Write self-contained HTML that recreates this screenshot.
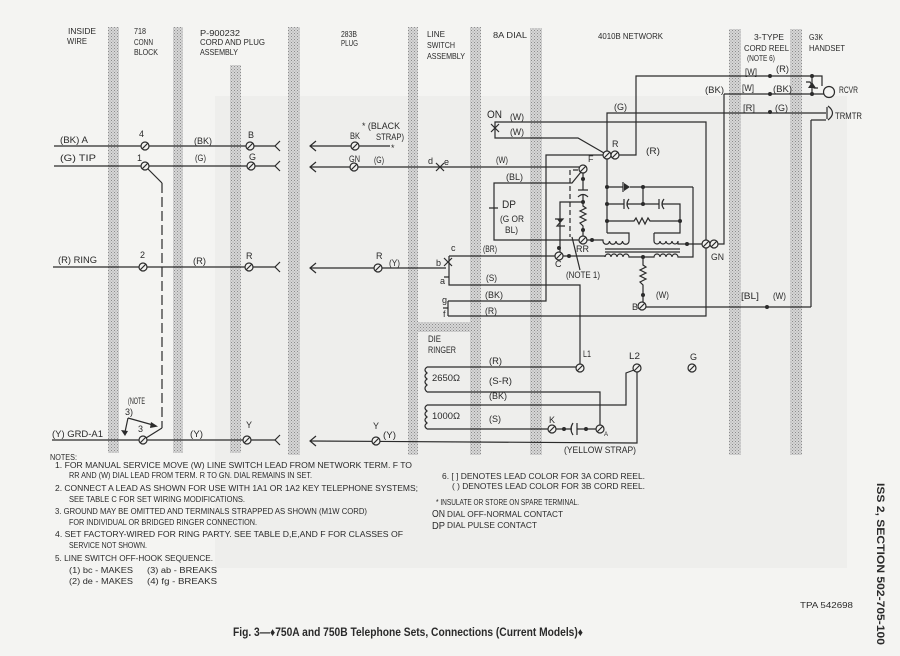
<!DOCTYPE html>
<html><head><meta charset="utf-8"><style>
html,body{margin:0;padding:0;background:#f4f4f2;}
svg{display:block;}
text{font-family:"Liberation Sans",sans-serif;font-size:9px;fill:#2a2a2a;}
text.s{font-size:8px;}
.b{font-weight:bold;}
</style></head><body>
<svg width="900" height="656" viewBox="0 0 900 656" xmlns="http://www.w3.org/2000/svg">
<defs>
<pattern id="st" width="3" height="3" patternUnits="userSpaceOnUse">
<rect width="3" height="3" fill="#d6d6d6"/><rect width="1" height="1" fill="#8c8c8c"/><rect x="1.5" y="1.5" width="1" height="1" fill="#9c9c9c"/>
</pattern>
</defs>
<rect width="900" height="656" fill="#f4f4f2"/>
<rect x="215" y="96" width="632" height="472" fill="#eeeeec"/>
<!-- stippled bars -->
<g fill="url(#st)">
<rect x="108" y="27" width="11" height="426"/>
<rect x="173" y="27" width="10" height="426"/>
<rect x="230" y="65" width="11" height="388"/>
<rect x="288" y="27" width="12" height="428"/>
<rect x="408" y="27" width="10" height="428"/>
<rect x="418" y="322" width="52" height="10"/>
<rect x="470" y="27" width="11" height="428"/>
<rect x="530" y="28" width="12" height="427"/>
<rect x="729" y="29" width="12" height="426"/>
<rect x="790" y="29" width="12" height="426"/>
</g>
<!-- wires -->
<g fill="none" stroke="#2b2b2b" stroke-width="1.2">
<path d="M54,146H275M54,166H275M53,267H275M52,440H275"/>
<path d="M280,141L275,146L280,151M280,161L275,166L280,171M280,262L275,267L280,272M280,435L275,440L280,445"/>
<path d="M310,146H390M310,167H579M310,268H446M310,441L637,443V372"/>
<path d="M316,141L310,146L316,151M316,162L310,167L316,172M316,263L310,268L316,273M316,436L310,441L316,446"/>
<path d="M436,163L444,171M436,171L444,163"/>
<path d="M145,166L162,183M162,428L146,438"/>
<path d="M162,183V428" stroke-dasharray="10 4"/>
<path d="M128,418L153,425M128,418L125,432"/>
<!-- line switch -->
<path d="M449,256H555M449,256V285H580V364M444,258L452,266M444,266L452,258M444,277H449"/>
<path d="M448,301V316M443,308H448M448,301H546V155H603M448,316H706V122H495V138H578L604,153"/>
<path d="M491,124L499,132M491,132L499,124"/>
<path d="M581,172L572,183H494V240H579M489,208H498"/>
<path d="M578,170H570V237" stroke-dasharray="5 3"/>
<path d="M572,237L580,270"/>
<path d="M583,173V190M578,190H588M578,197Q583,192 588,197M583,195V206L586,208L580,211L586,214L580,217L586,220L580,223L583,226V236"/>
<path d="M583,202H560V252M555,219H563L557,226H565"/>
<path d="M563,256H605V257M587,240H603V241"/>
<!-- transformer -->
<path d="M603,241a3,3 0 0 0 6.5,0a3,3 0 0 0 6.5,0a3,3 0 0 0 6.5,0a3,3 0 0 0 6.5,0V233H607"/>
<path d="M654,233V241a3,3 0 0 0 6,0a3,3 0 0 0 6,0a3,3 0 0 0 6,0a3,3 0 0 0 6,0V244H702M654,233H680V221"/>
<path d="M605,249H680M605,252H680"/>
<path d="M605,257a3,3 0 0 1 6,0a3,3 0 0 1 6,0a3,3 0 0 1 6,0a3,3 0 0 1 6,0H654a3,3 0 0 1 6,0a3,3 0 0 1 6,0a3,3 0 0 1 6,0a3,3 0 0 1 6,0H693V187"/>
<path d="M643,257V265L646,267L640,270L646,273L640,276L646,279L640,282L643,285V302"/>
<!-- network -->
<path d="M607,159V233M607,151V113H826M619,155H636V76H822V86M724,94H824M718,244H724V94"/>
<path d="M812,76V94M806,82H810L814,88H818"/>
<path d="M827,107V119M828,106Q837,113 828,120M811,120H826M811,120V307M646,307H811"/>
<path d="M607,187H623M630,187H693M623,182V192"/>
<path d="M607,204H624M624,199V209M629,199Q625,204 629,209M627,204H659M659,199V209M664,199Q660,204 664,209M662,204H680V221M643,187V204"/>
<path d="M607,221H634L636,218L639,224L642,218L645,224L648,218L650,221H680"/>
<!-- ringer -->
<path d="M427,367H576M427,392H600V425M427,405H626V373L634,370M427,429H548M556,429H572M577,429H596"/>
<path d="M427,367q-4,3 0,6q-4,3 0,6q-4,3 0,6q-4,3 0,7M427,405q-4,3 0,6q-4,3 0,6q-4,3 0,6q-4,3 0,6"/>
<path d="M573,423Q569,429 573,435M577,423V435"/>
<circle cx="829" cy="92" r="5.5"/>
</g>
<g fill="#2b2b2b" stroke="none">
<polygon points="158,426.5 151,422 150,428"/>
<polygon points="125,436 121,430 128,431"/>
<polygon points="557,219 563,219 560,223"/>
<polygon points="624,183 624,191 630,187"/>
<polygon points="808,88 816,88 812,82"/>
<circle cx="583" cy="179" r="2"/><circle cx="583" cy="202" r="2"/><circle cx="583" cy="230" r="2"/>
<circle cx="559" cy="248" r="2"/><circle cx="569" cy="256" r="2"/><circle cx="592" cy="240" r="2"/>
<circle cx="607" cy="187" r="2"/><circle cx="607" cy="204" r="2"/><circle cx="607" cy="221" r="2"/>
<circle cx="643" cy="187" r="2"/><circle cx="643" cy="204" r="2"/><circle cx="680" cy="221" r="2"/>
<circle cx="687" cy="244" r="2"/><circle cx="643" cy="257" r="2"/><circle cx="643" cy="295" r="2"/>
<circle cx="564" cy="429" r="2"/><circle cx="586" cy="429" r="2"/>
<circle cx="770" cy="76" r="2"/><circle cx="812" cy="76" r="2"/><circle cx="770" cy="94" r="2"/>
<circle cx="812" cy="94" r="2"/><circle cx="770" cy="112" r="2"/><circle cx="767" cy="307" r="2"/>
</g>
<!-- terminals -->
<g fill="#f2f2f0" stroke="#2b2b2b" stroke-width="1.2">
<circle cx="145" cy="146" r="4"/><circle cx="250" cy="146" r="4"/><circle cx="145" cy="166" r="4"/><circle cx="251" cy="166" r="4"/>
<circle cx="143" cy="267" r="4"/><circle cx="249" cy="267" r="4"/><circle cx="143" cy="440" r="4"/><circle cx="247" cy="440" r="4"/>
<circle cx="355" cy="146" r="4"/><circle cx="354" cy="167" r="4"/><circle cx="378" cy="268" r="4"/><circle cx="376" cy="441" r="4"/>
<circle cx="583" cy="169" r="4"/><circle cx="583" cy="240" r="4"/><circle cx="559" cy="256" r="4"/>
<circle cx="607" cy="155" r="4"/><circle cx="615" cy="155" r="4"/><circle cx="706" cy="244" r="4"/><circle cx="714" cy="244" r="4"/>
<circle cx="642" cy="306" r="4"/><circle cx="580" cy="368" r="4"/><circle cx="637" cy="368" r="4"/><circle cx="692" cy="368" r="4"/>
<circle cx="552" cy="429" r="4"/><circle cx="600" cy="429" r="4"/>
</g>
<path fill="none" stroke="#2b2b2b" stroke-width="1.1" d="M142.2,148.8l5.6,-5.6M247.2,148.8l5.6,-5.6M142.2,168.8l5.6,-5.6M248.2,168.8l5.6,-5.6M140.2,269.8l5.6,-5.6M246.2,269.8l5.6,-5.6M140.2,442.8l5.6,-5.6M244.2,442.8l5.6,-5.6M352.2,148.8l5.6,-5.6M351.2,169.8l5.6,-5.6M375.2,270.8l5.6,-5.6M373.2,443.8l5.6,-5.6M580.2,171.8l5.6,-5.6M580.2,242.8l5.6,-5.6M556.2,258.8l5.6,-5.6M604.2,157.8l5.6,-5.6M612.2,157.8l5.6,-5.6M703.2,246.8l5.6,-5.6M711.2,246.8l5.6,-5.6M639.2,308.8l5.6,-5.6M577.2,370.8l5.6,-5.6M634.2,370.8l5.6,-5.6M689.2,370.8l5.6,-5.6M549.2,431.8l5.6,-5.6M597.2,431.8l5.6,-5.6"/>
<!-- headers -->
<text class="s" lengthAdjust="spacingAndGlyphs" x="68" y="34" textLength="28">INSIDE</text>
<text class="s" lengthAdjust="spacingAndGlyphs" x="67" y="44" textLength="20">WIRE</text>
<text class="s" lengthAdjust="spacingAndGlyphs" x="134" y="34" textLength="12">718</text>
<text class="s" lengthAdjust="spacingAndGlyphs" x="134" y="45" textLength="19">CONN</text>
<text class="s" lengthAdjust="spacingAndGlyphs" x="134" y="55" textLength="24">BLOCK</text>
<text class="s" lengthAdjust="spacingAndGlyphs" x="200" y="36" textLength="40">P-900232</text>
<text class="s" lengthAdjust="spacingAndGlyphs" x="200" y="45" textLength="65">CORD AND PLUG</text>
<text class="s" lengthAdjust="spacingAndGlyphs" x="200" y="55" textLength="38">ASSEMBLY</text>
<text class="s" lengthAdjust="spacingAndGlyphs" x="341" y="37" textLength="16">283B</text>
<text class="s" lengthAdjust="spacingAndGlyphs" x="341" y="46" textLength="17">PLUG</text>
<text class="s" lengthAdjust="spacingAndGlyphs" x="427" y="37" textLength="18">LINE</text>
<text class="s" lengthAdjust="spacingAndGlyphs" x="427" y="48" textLength="28">SWITCH</text>
<text class="s" lengthAdjust="spacingAndGlyphs" x="427" y="59" textLength="38">ASSEMBLY</text>
<text class="s" lengthAdjust="spacingAndGlyphs" x="493" y="38" textLength="34">8A DIAL</text>
<text class="s" lengthAdjust="spacingAndGlyphs" x="598" y="39" textLength="65">4010B NETWORK</text>
<text class="s" lengthAdjust="spacingAndGlyphs" x="754" y="40" textLength="30">3-TYPE</text>
<text class="s" lengthAdjust="spacingAndGlyphs" x="744" y="51" textLength="45">CORD REEL</text>
<text class="s" lengthAdjust="spacingAndGlyphs" x="747" y="61" textLength="28">(NOTE 6)</text>
<text class="s" lengthAdjust="spacingAndGlyphs" x="809" y="40" textLength="14">G3K</text>
<text class="s" lengthAdjust="spacingAndGlyphs" x="809" y="51" textLength="36">HANDSET</text>
<!-- wire labels -->
<text lengthAdjust="spacingAndGlyphs" x="60" y="143" textLength="28">(BK) A</text>
<text x="139" y="137">4</text>
<text lengthAdjust="spacingAndGlyphs" x="194" y="144" textLength="18">(BK)</text>
<text x="248" y="138">B</text>
<text lengthAdjust="spacingAndGlyphs" x="60" y="161" textLength="36">(G)  TIP</text>
<text x="137" y="161">1</text>
<text lengthAdjust="spacingAndGlyphs" x="195" y="161" textLength="11">(G)</text>
<text x="249" y="160">G</text>
<text lengthAdjust="spacingAndGlyphs" x="58" y="263" textLength="39">(R) RING</text>
<text x="140" y="258">2</text>
<text lengthAdjust="spacingAndGlyphs" x="193" y="264" textLength="13">(R)</text>
<text x="246" y="259">R</text>
<text lengthAdjust="spacingAndGlyphs" x="350" y="139" textLength="10">BK</text>
<text lengthAdjust="spacingAndGlyphs" x="362" y="129" textLength="38">* (BLACK</text>
<text lengthAdjust="spacingAndGlyphs" x="376" y="140" textLength="28">STRAP)</text>
<text x="391" y="151">*</text>
<text lengthAdjust="spacingAndGlyphs" x="349" y="162" textLength="11">GN</text>
<text lengthAdjust="spacingAndGlyphs" x="374" y="163" textLength="10">(G)</text>
<text x="428" y="164">d</text>
<text x="444" y="165">e</text>
<text x="376" y="259">R</text>
<text lengthAdjust="spacingAndGlyphs" x="389" y="266" textLength="11">(Y)</text>
<text x="436" y="266">b</text>
<text x="451" y="251">c</text>
<text x="440" y="284">a</text>
<text lengthAdjust="spacingAndGlyphs" x="483" y="252" textLength="14">(BR)</text>
<text lengthAdjust="spacingAndGlyphs" x="486" y="281" textLength="11">(S)</text>
<text lengthAdjust="spacingAndGlyphs" x="496" y="163" textLength="12">(W)</text>
<text lengthAdjust="spacingAndGlyphs" x="506" y="180" textLength="17">(BL)</text>
<text lengthAdjust="spacingAndGlyphs" x="502" y="208" style="font-size:11px" textLength="14">DP</text>
<text lengthAdjust="spacingAndGlyphs" x="500" y="222" textLength="24">(G OR</text>
<text lengthAdjust="spacingAndGlyphs" x="505" y="233" textLength="13">BL)</text>
<text x="588" y="162">F</text>
<text lengthAdjust="spacingAndGlyphs" x="576" y="252" textLength="13">RR</text>
<text x="555" y="267">C</text>
<text lengthAdjust="spacingAndGlyphs" x="566" y="278" textLength="34">(NOTE 1)</text>
<text lengthAdjust="spacingAndGlyphs" x="487" y="118" style="font-size:11px" textLength="15">ON</text>
<text lengthAdjust="spacingAndGlyphs" x="510" y="120" textLength="14">(W)</text>
<text lengthAdjust="spacingAndGlyphs" x="510" y="135" textLength="14">(W)</text>
<text x="612" y="147">R</text>
<text lengthAdjust="spacingAndGlyphs" x="646" y="154" textLength="14">(R)</text>
<text lengthAdjust="spacingAndGlyphs" x="614" y="110" textLength="13">(G)</text>
<text lengthAdjust="spacingAndGlyphs" x="705" y="93" textLength="19">(BK)</text>
<text lengthAdjust="spacingAndGlyphs" x="745" y="75" textLength="12">[W]</text>
<text lengthAdjust="spacingAndGlyphs" x="776" y="72" textLength="13">(R)</text>
<text lengthAdjust="spacingAndGlyphs" x="742" y="91" textLength="12">[W]</text>
<text lengthAdjust="spacingAndGlyphs" x="773" y="92" textLength="19">(BK)</text>
<text lengthAdjust="spacingAndGlyphs" x="743" y="111" textLength="12">[R]</text>
<text lengthAdjust="spacingAndGlyphs" x="775" y="111" textLength="13">(G)</text>
<text lengthAdjust="spacingAndGlyphs" x="839" y="93" textLength="19">RCVR</text>
<text lengthAdjust="spacingAndGlyphs" x="835" y="119" textLength="27">TRMTR</text>
<text lengthAdjust="spacingAndGlyphs" x="711" y="260" textLength="13">GN</text>
<text lengthAdjust="spacingAndGlyphs" x="656" y="298" textLength="13">(W)</text>
<text x="632" y="310">B</text>
<text lengthAdjust="spacingAndGlyphs" x="741" y="299" textLength="18">[BL]</text>
<text lengthAdjust="spacingAndGlyphs" x="773" y="299" textLength="13">(W)</text>
<text lengthAdjust="spacingAndGlyphs" x="485" y="298" textLength="18">(BK)</text>
<text lengthAdjust="spacingAndGlyphs" x="485" y="314" textLength="12">(R)</text>
<text x="442" y="303">g</text>
<text x="443" y="317">f</text>
<text lengthAdjust="spacingAndGlyphs" x="428" y="342" textLength="13">DIE</text>
<text lengthAdjust="spacingAndGlyphs" x="428" y="353" textLength="28">RINGER</text>
<text lengthAdjust="spacingAndGlyphs" x="583" y="357" textLength="8">L1</text>
<text lengthAdjust="spacingAndGlyphs" x="629" y="359" textLength="11">L2</text>
<text x="690" y="360">G</text>
<text lengthAdjust="spacingAndGlyphs" x="489" y="364" textLength="13">(R)</text>
<text lengthAdjust="spacingAndGlyphs" x="432" y="381" textLength="28">2650Ω</text>
<text lengthAdjust="spacingAndGlyphs" x="489" y="384" textLength="23">(S-R)</text>
<text lengthAdjust="spacingAndGlyphs" x="489" y="399" textLength="18">(BK)</text>
<text lengthAdjust="spacingAndGlyphs" x="432" y="419" textLength="28">1000Ω</text>
<text lengthAdjust="spacingAndGlyphs" x="489" y="422" textLength="12">(S)</text>
<text x="549" y="423">K</text>
<text x="604" y="436" style="font-size:6px">A</text>
<text lengthAdjust="spacingAndGlyphs" x="564" y="453" textLength="72">(YELLOW STRAP)</text>
<text lengthAdjust="spacingAndGlyphs" x="128" y="404" textLength="17">(NOTE</text>
<text lengthAdjust="spacingAndGlyphs" x="125" y="415" textLength="8">3)</text>
<text x="138" y="432">3</text>
<text lengthAdjust="spacingAndGlyphs" x="52" y="437" textLength="51">(Y) GRD-A1</text>
<text lengthAdjust="spacingAndGlyphs" x="190" y="437" textLength="13">(Y)</text>
<text x="246" y="428">Y</text>
<text x="373" y="429">Y</text>
<text lengthAdjust="spacingAndGlyphs" x="383" y="438" textLength="13">(Y)</text>
<!-- notes -->
<text class="s" lengthAdjust="spacingAndGlyphs" x="50" y="460" textLength="27">NOTES:</text>
<text class="s" lengthAdjust="spacingAndGlyphs" x="55" y="468" textLength="357">1. FOR MANUAL SERVICE MOVE (W) LINE SWITCH LEAD FROM NETWORK TERM. F TO</text>
<text class="s" lengthAdjust="spacingAndGlyphs" x="69" y="478" textLength="243">RR AND (W) DIAL LEAD FROM TERM. R TO GN. DIAL REMAINS IN SET.</text>
<text class="s" lengthAdjust="spacingAndGlyphs" x="55" y="491" textLength="363">2. CONNECT A LEAD AS SHOWN FOR USE WITH 1A1 OR 1A2 KEY TELEPHONE SYSTEMS;</text>
<text class="s" lengthAdjust="spacingAndGlyphs" x="69" y="502" textLength="176">SEE TABLE C FOR SET WIRING MODIFICATIONS.</text>
<text class="s" lengthAdjust="spacingAndGlyphs" x="55" y="514" textLength="312">3. GROUND MAY BE OMITTED AND TERMINALS STRAPPED AS SHOWN (M1W  CORD)</text>
<text class="s" lengthAdjust="spacingAndGlyphs" x="69" y="525" textLength="188">FOR INDIVIDUAL OR BRIDGED RINGER CONNECTION.</text>
<text class="s" lengthAdjust="spacingAndGlyphs" x="55" y="537" textLength="348">4. SET FACTORY-WIRED FOR RING PARTY. SEE TABLE D,E,AND F FOR CLASSES OF</text>
<text class="s" lengthAdjust="spacingAndGlyphs" x="69" y="548" textLength="78">SERVICE NOT SHOWN.</text>
<text class="s" lengthAdjust="spacingAndGlyphs" x="55" y="561" textLength="158">5. LINE SWITCH OFF-HOOK SEQUENCE.</text>
<text class="s" lengthAdjust="spacingAndGlyphs" x="69" y="573" textLength="64">(1) bc - MAKES</text>
<text class="s" lengthAdjust="spacingAndGlyphs" x="147" y="573" textLength="70">(3) ab - BREAKS</text>
<text class="s" lengthAdjust="spacingAndGlyphs" x="69" y="584" textLength="64">(2) de - MAKES</text>
<text class="s" lengthAdjust="spacingAndGlyphs" x="147" y="584" textLength="70">(4) fg - BREAKS</text>
<text class="s" lengthAdjust="spacingAndGlyphs" x="442" y="479" textLength="203">6. [ ] DENOTES LEAD COLOR FOR 3A CORD REEL.</text>
<text class="s" lengthAdjust="spacingAndGlyphs" x="452" y="489" textLength="193">( ) DENOTES LEAD COLOR FOR 3B CORD REEL.</text>
<text class="s" lengthAdjust="spacingAndGlyphs" x="436" y="505" textLength="143">* INSULATE OR STORE ON SPARE TERMINAL.</text>
<text lengthAdjust="spacingAndGlyphs" x="432" y="517" style="font-size:10px" textLength="13">ON</text>
<text class="s" lengthAdjust="spacingAndGlyphs" x="447" y="517" textLength="116">DIAL OFF-NORMAL CONTACT</text>
<text lengthAdjust="spacingAndGlyphs" x="432" y="529" style="font-size:10px" textLength="13">DP</text>
<text class="s" lengthAdjust="spacingAndGlyphs" x="447" y="528" textLength="90">DIAL PULSE CONTACT</text>
<text class="s" lengthAdjust="spacingAndGlyphs" x="800" y="608" textLength="53">TPA 542698</text>
<text lengthAdjust="spacingAndGlyphs" class="b" x="233" y="636" style="font-size:11.5px" textLength="350">Fig. 3—♦750A and 750B Telephone Sets, Connections (Current Models)♦</text>
<text lengthAdjust="spacingAndGlyphs" class="b" transform="translate(877,483) rotate(90)" x="0" y="0" style="font-size:11px" textLength="162">ISS 2, SECTION 502-705-100</text>
</svg>
</body></html>
